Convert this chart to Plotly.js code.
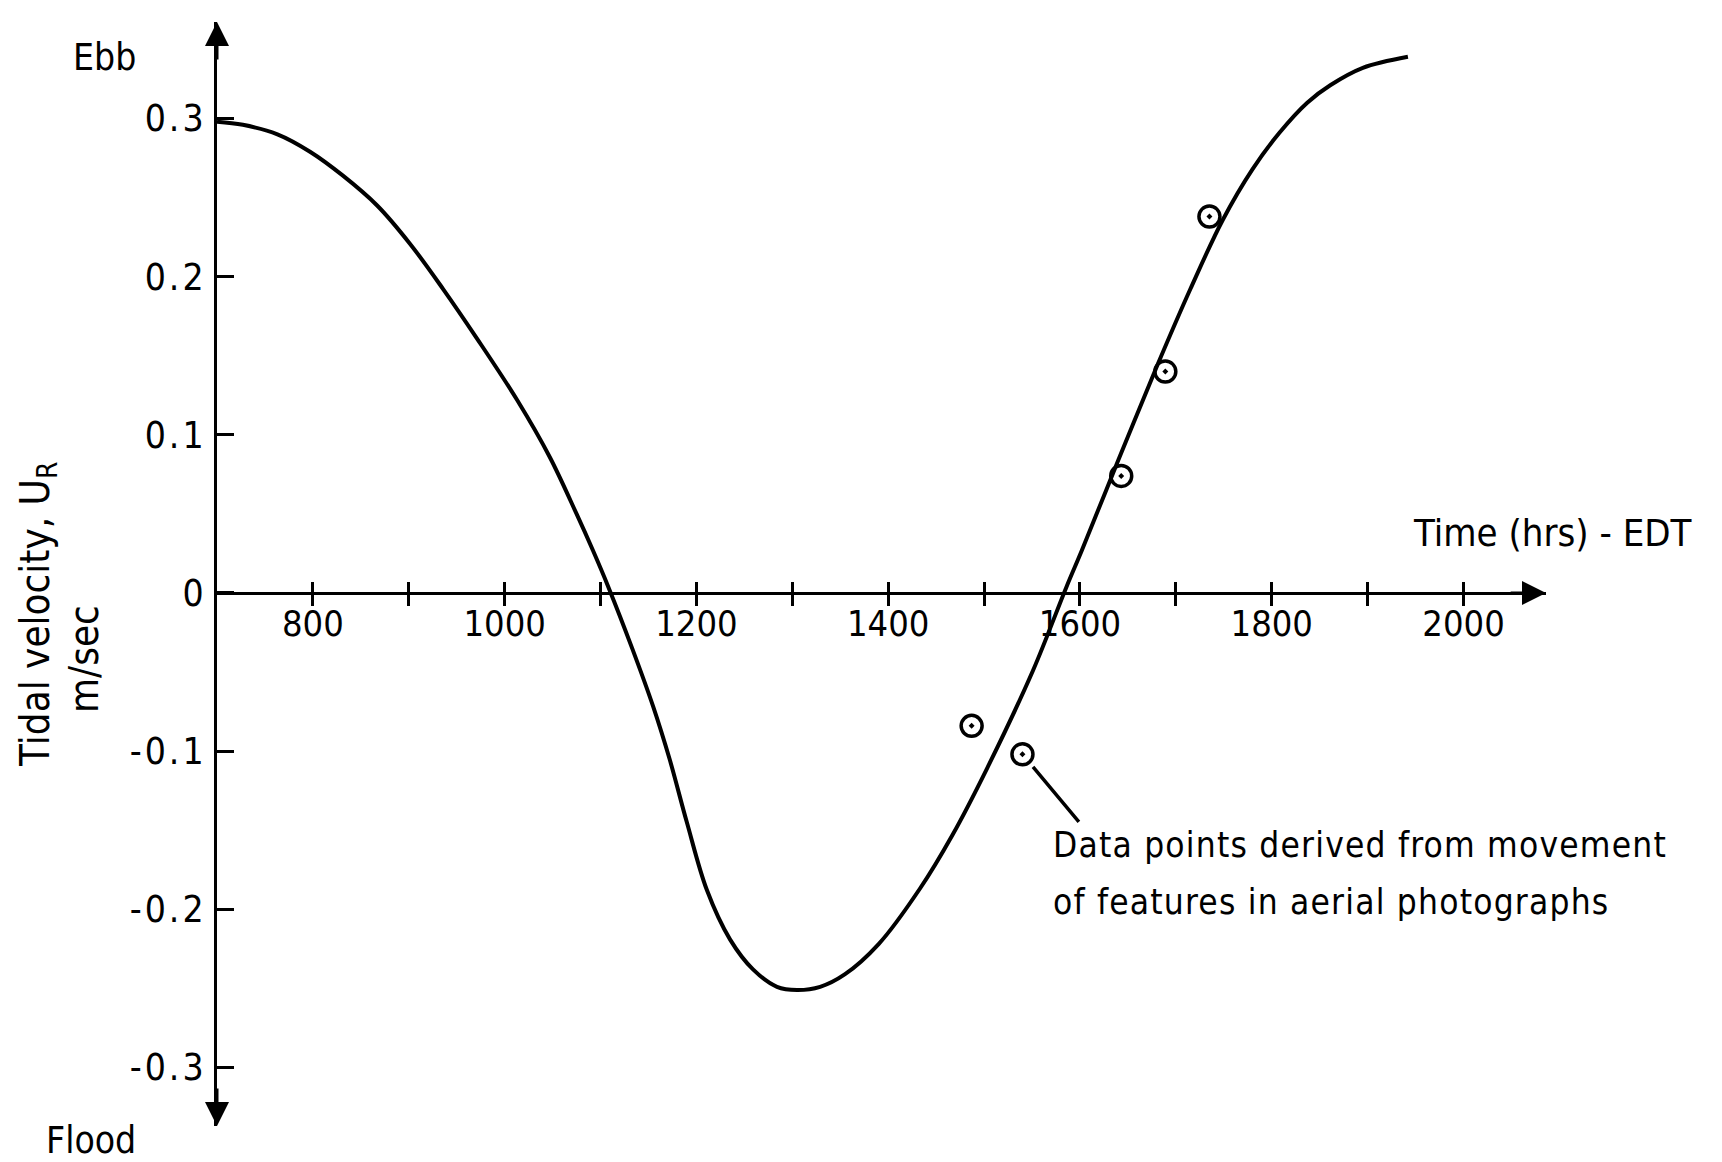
<!DOCTYPE html>
<html>
<head>
<meta charset="utf-8">
<script src="https://cdn.plot.ly/plotly-3.0.1.min.js"></script>
<style>
  html, body { margin: 0; padding: 0; background: #fff; }
  #chart { width: 1722px; height: 1162px; }
  g.ytick text { letter-spacing: 3px; }
</style>
</head>
<body>
<div id="chart"></div>
<script>
// ---- data ----
const curveTime = [700, 727, 763, 797, 831, 867, 901, 936, 971, 1013, 1047, 1075, 1092, 1108, 1133, 1155, 1172, 1190, 1211, 1235, 1259, 1284, 1305, 1329, 1355, 1390, 1433, 1467, 1503, 1551, 1586, 1602, 1640, 1680, 1715, 1749, 1780, 1808, 1837, 1861, 1895, 1942];
const curveVel  = [0.298, 0.296, 0.290, 0.279, 0.264, 0.245, 0.221, 0.192, 0.161, 0.122, 0.086, 0.050, 0.027, 0.004, -0.035, -0.072, -0.105, -0.145, -0.188, -0.219, -0.238, -0.249, -0.251, -0.249, -0.241, -0.222, -0.187, -0.153, -0.111, -0.049, 0.004, 0.027, 0.084, 0.143, 0.192, 0.236, 0.268, 0.291, 0.310, 0.321, 0.332, 0.339];

const photoTime = [1487, 1540, 1643, 1689, 1735];
const photoVel  = [-0.084, -0.102, 0.074, 0.140, 0.238];

const xTickVals = [800, 900, 1000, 1100, 1200, 1300, 1400, 1500, 1600, 1700, 1800, 1900, 2000];
const xTickText = ['800', '', '1000', '', '1200', '', '1400', '', '1600', '', '1800', '', '2000'];
const yTickVals = [0.3, 0.2, 0.1, 0, -0.1, -0.2, -0.3];
const yTickText = ['0.3', '0.2', '0.1', '0', '-0.1', '-0.2', '-0.3'];

const xRange = [700, 2086];
const yRange = [-0.337, 0.361];

// leader line from the labelled data point to the note
const leaderFrom = [1551, -0.110];
const leaderTo   = [1602, -0.147];

const FONT = "'Liberation Sans Narrow', 'DejaVu Sans Condensed', 'Arial Narrow', 'Liberation Sans', sans-serif";
const xAxisPos = (0 - yRange[0]) / (yRange[1] - yRange[0]);

const traces = [
  {
    x: curveTime, y: curveVel, type: 'scatter', mode: 'lines',
    line: { color: '#000', width: 4, shape: 'spline', smoothing: 1.0 },
    hoverinfo: 'skip', showlegend: false
  },
  {
    x: photoTime, y: photoVel, type: 'scatter', mode: 'markers',
    marker: { symbol: 'circle-open-dot', size: 21, color: '#000', line: { color: '#000', width: 3.5 } },
    showlegend: false
  },
  { // overlay axis carrier for the upper half of the cross ticks
    x: [xRange[0]], y: [0], xaxis: 'x2', yaxis: 'y', type: 'scatter', mode: 'markers',
    marker: { opacity: 0 }, hoverinfo: 'skip', showlegend: false
  }
];

const annotations = [
  // axis arrowheads
  { x: xRange[1], y: 0, ax: xRange[1] - 40, ay: 0, xref: 'x', yref: 'y', axref: 'x', ayref: 'y',
    showarrow: true, arrowhead: 2, arrowsize: 1.6, arrowwidth: 3, arrowcolor: '#000', text: ' ' },
  { x: xRange[0], y: yRange[1], ax: xRange[0], ay: yRange[1] - 0.03, xref: 'x', yref: 'y', axref: 'x', ayref: 'y',
    showarrow: true, arrowhead: 2, arrowsize: 1.6, arrowwidth: 3, arrowcolor: '#000', text: ' ' },
  { x: xRange[0], y: yRange[0], ax: xRange[0], ay: yRange[0] + 0.03, xref: 'x', yref: 'y', axref: 'x', ayref: 'y',
    showarrow: true, arrowhead: 2, arrowsize: 1.6, arrowwidth: 3, arrowcolor: '#000', text: ' ' },
  // leader line
  { x: leaderFrom[0], y: leaderFrom[1], ax: leaderTo[0], ay: leaderTo[1], xref: 'x', yref: 'y', axref: 'x', ayref: 'y',
    showarrow: true, arrowhead: 0, arrowwidth: 3.5, arrowcolor: '#000', text: ' ' },
  // note text
  { x: 0.6278, y: 0.2545, xref: 'paper', yref: 'paper', xanchor: 'left', yanchor: 'middle', showarrow: false,
    text: '<span style="letter-spacing:1.2px">Data points derived from movement</span>', font: { family: FONT, size: 35, color: '#000' } },
  { x: 0.6278, y: 0.2029, xref: 'paper', yref: 'paper', xanchor: 'left', yanchor: 'middle', showarrow: false,
    text: '<span style="letter-spacing:1.2px">of features in aerial photographs</span>', font: { family: FONT, size: 35, color: '#000' } },
  // axis titles and labels
  { x: 0.8984, y: 0.537, xref: 'paper', yref: 'paper', xanchor: 'left', yanchor: 'middle', showarrow: false,
    text: 'Time (hrs) - EDT', font: { family: FONT, size: 38, color: '#000' } },
  { x: -0.085, y: 0.968, xref: 'paper', yref: 'paper', xanchor: 'center', yanchor: 'middle', showarrow: false,
    text: 'Ebb', font: { family: FONT, size: 37, color: '#000' } },
  { x: -0.0948, y: -0.0127, xref: 'paper', yref: 'paper', xanchor: 'center', yanchor: 'middle', showarrow: false,
    text: 'Flood', font: { family: FONT, size: 37, color: '#000' } },
  { x: -0.1347, y: 0.4638, xref: 'paper', yref: 'paper', xanchor: 'center', yanchor: 'middle', showarrow: false,
    textangle: -90, text: 'Tidal velocity, U<sub>R</sub>', font: { family: FONT, size: 40, color: '#000' } },
  { x: -0.1001, y: 0.423, xref: 'paper', yref: 'paper', xanchor: 'center', yanchor: 'middle', showarrow: false,
    textangle: -90, text: 'm/sec', font: { family: FONT, size: 40, color: '#000' } }
];

const layout = {
  width: 1722, height: 1162,
  margin: { l: 217, r: 176, t: 22, b: 36, pad: 0 },
  paper_bgcolor: '#fff', plot_bgcolor: '#fff',
  showlegend: false,
  xaxis: {
    range: xRange, anchor: 'free', position: xAxisPos,
    showline: true, linecolor: '#000', linewidth: 3,
    showgrid: false, zeroline: false,
    tickmode: 'array', tickvals: xTickVals, ticktext: xTickText,
    ticks: 'outside', ticklen: 11, tickwidth: 3, tickcolor: '#000',
    tickfont: { family: FONT, size: 36, color: '#000' }, ticklabelstandoff: -13
  },
  xaxis2: {
    range: xRange, overlaying: 'x', anchor: 'free', position: xAxisPos,
    showline: false, showgrid: false, zeroline: false,
    tickmode: 'array', tickvals: xTickVals, showticklabels: false,
    ticks: 'inside', ticklen: 11, tickwidth: 3, tickcolor: '#000'
  },
  yaxis: {
    range: yRange, showline: true, linecolor: '#000', linewidth: 3,
    showgrid: false, zeroline: false,
    tickmode: 'array', tickvals: yTickVals, ticktext: yTickText,
    ticks: 'inside', ticklen: 17, tickwidth: 3, tickcolor: '#000',
    tickfont: { family: FONT, size: 37, color: '#000' }, ticklabelstandoff: 0
  },
  annotations: annotations
};

Plotly.newPlot('chart', traces, layout, { staticPlot: true, displayModeBar: false });
</script>
</body>
</html>
